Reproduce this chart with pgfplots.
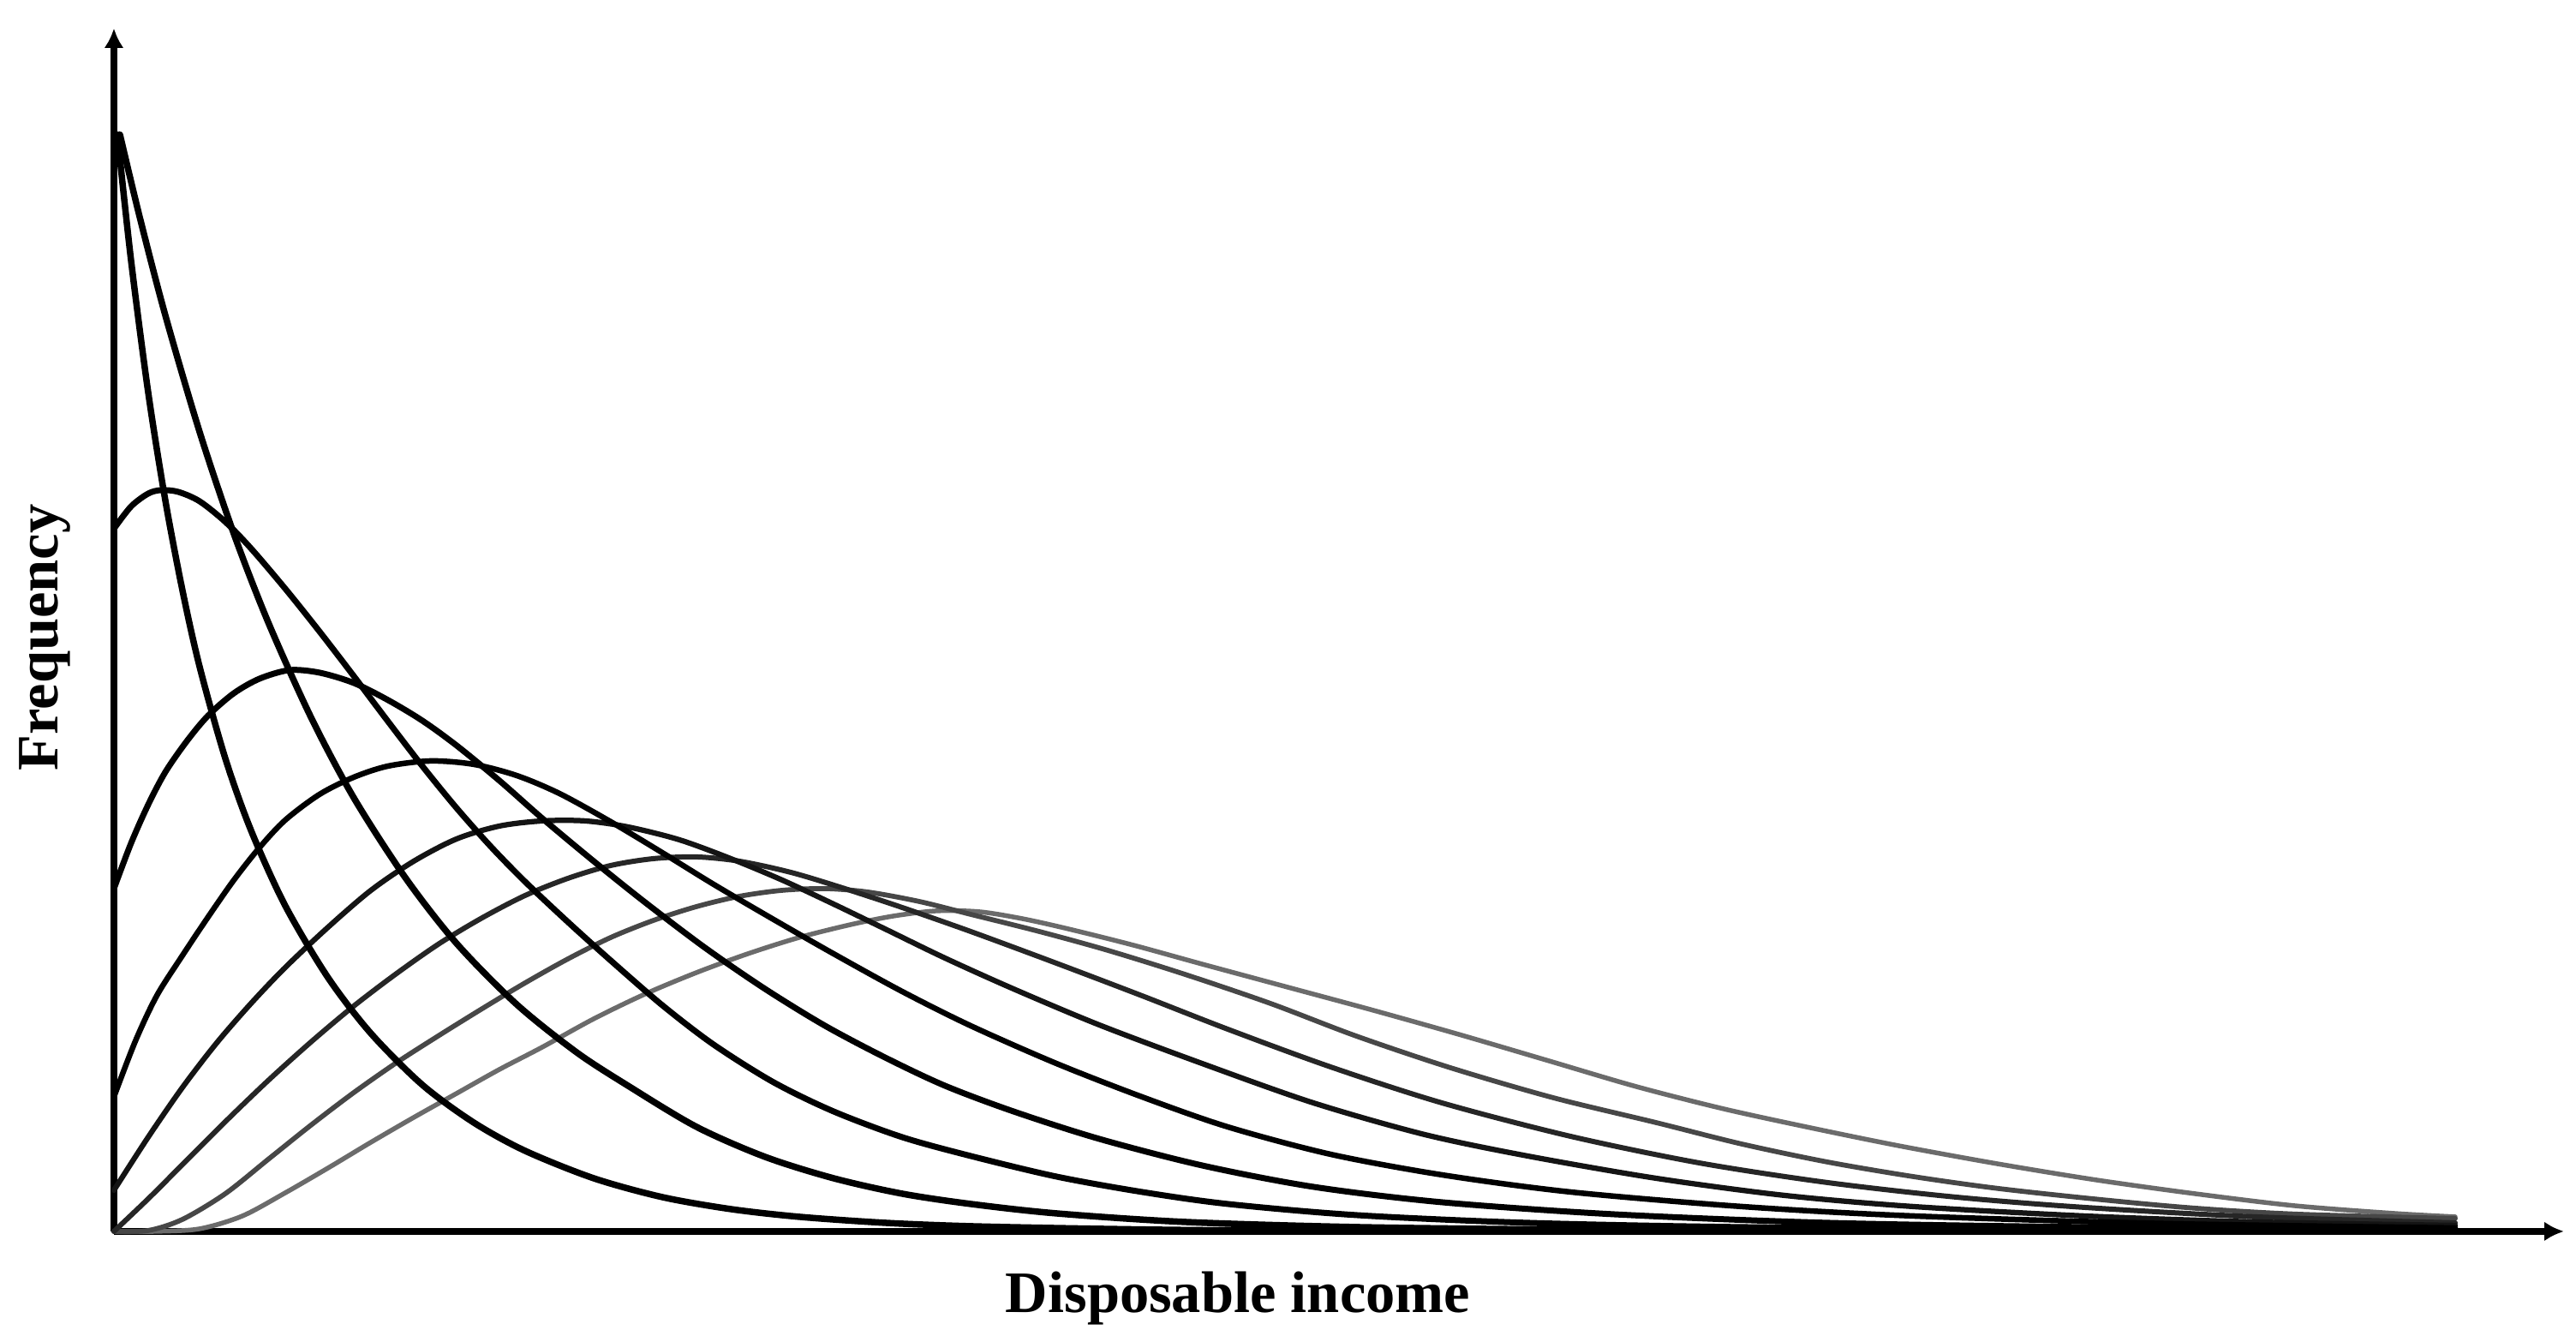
\documentclass[border=0pt]{standalone}
\usepackage{pgfplots}
\pgfplotsset{compat=1.18}
\usepackage{fontspec}
\setmainfont{Liberation Serif}
\usetikzlibrary{arrows.meta}
\begin{document}
\begin{tikzpicture}
\begin{axis}[
  scale only axis, width=572pt, height=280.8pt,
  xmin=0, xmax=2860, ymin=0, ymax=1404,
  axis x line=bottom, axis y line=left,
  x axis line style={line width=1.6pt, -{Latex[length=4.6pt,width=4.6pt]}},
  y axis line style={line width=1.6pt, -{Latex[length=4.6pt,width=4.6pt]}},
  xtick=\empty, ytick=\empty,
  clip=false,
  every axis plot/.append style={smooth, tension=0.5, line join=round, line cap=round, mark=none},
]
% I (lightest)
\addplot[color=black!58, line width=1.1pt] coordinates {
(0,0) (50,0) (100,3) (150,18) (200,45) (250,74) (300,104) (350,133) (400,161) (450,189) (500,215) (560,248) (620,277) (680,302) (740,324) (800,343) (860,358) (910,368) (960,374) (1010,373) (1060,365) (1114,353) (1190,334) (1270,312) (1370,285) (1470,258) (1573,229) (1675,199) (1777,169) (1879,143) (1980,121) (2083,100) (2198,79) (2314,60) (2429,44) (2545,30) (2661,21) (2733,17)};
% H
\addplot[color=black!72, line width=1.15pt] coordinates {
(0,0) (40,1) (80,14) (130,44) (180,84) (230,124) (280,162) (330,197) (380,229) (430,260) (480,290) (530,318) (580,343) (630,363) (680,379) (730,391) (780,398) (830,400) (880,396) (940,385) (1000,370) (1080,350) (1160,328) (1250,300) (1350,266) (1450,228) (1560,191) (1680,156) (1800,127) (1900,102) (2000,81) (2100,64) (2200,50) (2320,37) (2430,27) (2550,20) (2733,15)};
% G
\addplot[color=black!85, line width=1.2pt] coordinates {
(0,0) (40,38) (80,78) (130,128) (180,176) (230,221) (280,263) (330,301) (380,336) (430,366) (480,392) (530,412) (580,427) (630,435) (680,437) (730,432) (790,419) (850,401) (920,378) (1000,350) (1100,313) (1200,275) (1300,236) (1420,192) (1550,150) (1700,111) (1850,80) (2000,57) (2150,40) (2300,28) (2500,17) (2733,10)};
% F
\addplot[color=black!92, line width=1.25pt] coordinates {
(0,48) (40,110) (80,168) (120,220) (160,266) (200,308) (250,355) (300,398) (350,432) (400,458) (450,473) (500,479) (550,479) (600,472) (660,457) (720,435) (780,410) (840,382) (900,353) (970,319) (1050,283) (1150,241) (1270,196) (1400,150) (1530,113) (1650,88) (1800,62) (1950,42) (2100,29) (2300,18) (2500,11) (2733,7)};
% E
\addplot[color=black, line width=1.3pt] coordinates {
(0,157) (25,222) (50,275) (80,322) (110,367) (140,410) (170,448) (200,480) (240,510) (280,530) (320,543) (370,549) (420,545) (470,532) (520,511) (580,478) (640,442) (700,405) (770,364) (840,324) (920,280) (1000,240) (1100,196) (1200,157) (1300,122) (1420,90) (1550,66) (1700,46) (1900,29) (2100,18) (2400,9) (2733,4)};
% D
\addplot[color=black, line width=1.4pt] coordinates {
(0,400) (20,453) (40,498) (60,536) (85,572) (110,602) (140,628) (170,645) (205,655) (240,652) (280,640) (320,620) (360,596) (400,567) (450,526) (500,482) (560,432) (620,384) (690,331) (760,283) (830,240) (900,203) (970,170) (1050,140) (1150,108) (1270,77) (1400,52) (1550,34) (1750,20) (2000,10) (2300,5) (2733,2)};
% C
\addplot[color=black, line width=1.4pt] coordinates {
(0,820) (20,846) (40,861) (55,865) (75,863) (100,852) (130,828) (160,797) (200,750) (240,700) (280,648) (320,595) (360,543) (400,494) (440,449) (480,408) (530,361) (580,316) (640,264) (700,218) (770,174) (840,140) (920,110) (1000,88) (1100,64) (1200,46) (1300,32) (1450,19) (1650,10) (1900,5) (2300,2) (2733,1)};
% B
\addplot[color=black, line width=1.5pt] coordinates {
(7,1280) (30,1184) (60,1069) (100,933) (140,814) (180,711) (230,600) (280,506) (340,413) (400,336) (470,265) (540,209) (600,170) (680,122) (760,87) (840,62) (920,44) (1000,32) (1100,21) (1250,11) (1450,5) (1700,2) (2000,0.5) (2733,0)};
% A
\addplot[color=black, line width=1.5pt] coordinates {
(4,1280) (20,1133) (40,979) (60,853) (80,748) (100,659) (130,552) (160,468) (200,380) (250,296) (300,231) (360,171) (420,127) (480,94) (560,62) (640,40) (720,26) (800,17) (900,10) (1000,6) (1150,3) (1300,1.2) (1600,0.2) (2733,0)};
\node[rotate=90, font=\bfseries\fontsize{13.7}{16}\selectfont] at (axis cs:-81,693) {Frequency};
\node[font=\bfseries\fontsize{13.7}{16}\selectfont] at (axis cs:1312,-78) {Disposable income};
\path (axis cs:-133,-129) rectangle (axis cs:2874,1437);
\end{axis}
\end{tikzpicture}
\end{document}
